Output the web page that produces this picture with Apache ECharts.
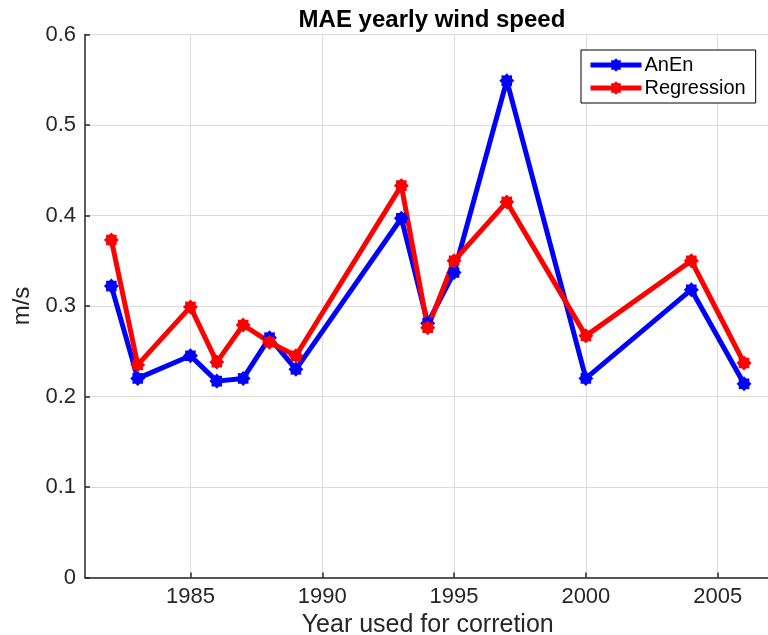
<!DOCTYPE html>
<html>
<head>
<meta charset="utf-8">
<script src="https://cdn.jsdelivr.net/npm/echarts@6/dist/echarts.min.js"></script>
<style>
  html, body { margin: 0; padding: 0; background: #fff; }
  #chart { width: 768px; height: 635px; }
</style>
</head>
<body>
<div id="chart"></div>
<script>
// Years used for correction and yearly MAE of wind speed (m/s)
const years = [1982, 1983, 1985, 1986, 1987, 1988, 1989, 1993, 1994, 1995, 1997, 2000, 2004, 2006];
const anen = [0.322, 0.220, 0.245, 0.217, 0.220, 0.265, 0.230, 0.397, 0.281, 0.337, 0.549, 0.220, 0.318, 0.214];
const regression = [0.373, 0.235, 0.299, 0.238, 0.279, 0.260, 0.245, 0.433, 0.276, 0.350, 0.415, 0.267, 0.350, 0.237];
const xTicks = [1985, 1990, 1995, 2000, 2005];
const yTicks = [0, 0.1, 0.2, 0.3, 0.4, 0.5, 0.6];

const FONT = '"Liberation Sans", Arial, Helvetica, sans-serif';
const INK = '#262626';

// asterisk-like marker drawn as a many-pointed star
function starPath(points, inner) {
  const pts = [];
  for (let i = 0; i < points * 2; i++) {
    const r = i % 2 === 0 ? 1 : inner;
    const a = Math.PI * i / points - Math.PI / 2;
    pts.push((50 + 50 * r * Math.cos(a)).toFixed(2) + ' ' + (50 + 50 * r * Math.sin(a)).toFixed(2));
  }
  return 'path://M' + pts.join(' L') + ' Z';
}
const STAR = starPath(8, 0.76);

function pairs(xs, ys) {
  return xs.map((x, i) => [x, ys[i]]);
}

const chart = echarts.init(document.getElementById('chart'), null, { renderer: 'canvas' });

chart.setOption({
  animation: false,
  backgroundColor: '#ffffff',
  title: {
    text: 'MAE yearly wind speed',
    left: 427,
    textAlign: 'center',
    top: 3,
    textStyle: { fontFamily: FONT, fontSize: 24, fontWeight: 'bold', color: '#000' }
  },
  grid: { left: 85, right: -2.4, top: 34.5, bottom: 57.5, containLabel: false, outerBoundsMode: 'none' },
  legend: {
    orient: 'vertical',
    left: 581,
    top: 50,
    padding: [5, 10, 5, 7],
    itemGap: 3,
    itemWidth: 51,
    itemHeight: 17,
    backgroundColor: '#fff',
    borderColor: '#000',
    borderWidth: 1,
    borderRadius: 0,
    lineStyle: { width: 5 },
    textStyle: { fontFamily: FONT, fontSize: 20, color: '#000', lineHeight: 20, padding: [0, 0, 0, -2] },
    data: ['AnEn', 'Regression']
  },
  xAxis: {
    type: 'value',
    min: 1981,
    max: 2007,
    name: 'Year used for corretion',
    nameLocation: 'middle',
    nameGap: 32,
    nameTextStyle: { fontFamily: FONT, fontSize: 25, color: INK },
    axisLine: { show: true, onZero: false, lineStyle: { color: INK, width: 1.5 } },
    axisTick: { show: true, inside: true, length: 5, customValues: xTicks, lineStyle: { color: INK, width: 1.5 } },
    axisLabel: { customValues: xTicks, fontFamily: FONT, fontSize: 22, color: INK, margin: 8, formatter: v => String(v) },
    splitLine: { show: true, lineStyle: { color: '#dcdcdc', width: 1 } }
  },
  yAxis: {
    type: 'value',
    min: 0,
    max: 0.6,
    interval: 0.1,
    name: 'm/s',
    nameLocation: 'middle',
    nameGap: 42,
    nameTextStyle: { fontFamily: FONT, fontSize: 24, color: INK },
    axisLine: { show: true, lineStyle: { color: INK, width: 1.5 } },
    axisTick: { show: true, inside: true, length: 5, lineStyle: { color: INK, width: 1.5 } },
    axisLabel: {
      fontFamily: FONT, fontSize: 22, color: INK, margin: 9,
      formatter: v => {
        const t = yTicks.find(k => Math.abs(k - v) < 1e-9);
        return t === 0 ? '0' : String(Number(v.toFixed(1)));
      }
    },
    splitLine: { show: true, lineStyle: { color: '#dcdcdc', width: 1 } }
  },
  series: [
    {
      name: 'AnEn',
      type: 'line',
      data: pairs(years, anen),
      symbol: STAR,
      symbolSize: 15,
      itemStyle: { color: '#0000ff' },
      lineStyle: { color: '#0000ff', width: 5 }
    },
    {
      name: 'Regression',
      type: 'line',
      data: pairs(years, regression),
      symbol: STAR,
      symbolSize: 15,
      itemStyle: { color: '#ff0000' },
      lineStyle: { color: '#ff0000', width: 5 }
    }
  ]
});
</script>
</body>
</html>
